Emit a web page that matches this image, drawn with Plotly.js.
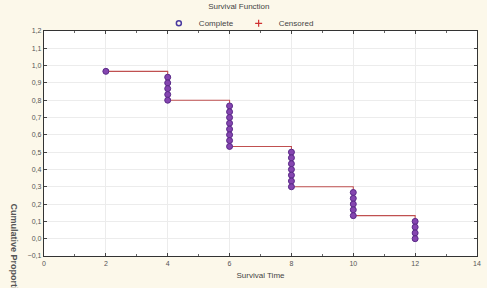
<!DOCTYPE html>
<html>
<head>
<meta charset="utf-8">
<script src="https://cdn.plot.ly/plotly-3.0.1.min.js"></script>
<style>
  html, body { margin: 0; padding: 0; background: #fcf8ea; }
  #chart { width: 487px; height: 288px; }
</style>
</head>
<body>
<div id="chart"></div>
<script>
// step function (Kaplan-Meier estimate)
var stepTimes = [2, 4, 6, 8, 10, 12];
var stepSurv = [0.967, 0.8, 0.533, 0.3, 0.133, 0.0];

// complete observations plotted as stacked points
var completeTime = [2,
    4, 4, 4, 4, 4,
    6, 6, 6, 6, 6, 6, 6, 6,
    8, 8, 8, 8, 8, 8, 8,
    10, 10, 10, 10, 10,
    12, 12, 12, 12];
var completeSurv = [0.967,
    0.933, 0.9, 0.867, 0.833, 0.8,
    0.767, 0.733, 0.7, 0.667, 0.633, 0.6, 0.567, 0.533,
    0.5, 0.467, 0.433, 0.4, 0.367, 0.333, 0.3,
    0.267, 0.233, 0.2, 0.167, 0.133,
    0.1, 0.067, 0.033, 0.0];

// no censored cases in this sample
var censoredTime = [null];
var censoredSurv = [null];

var traces = [
    {
        x: stepTimes, y: stepSurv,
        type: 'scatter', mode: 'lines',
        line: { shape: 'hv', color: '#c05050', width: 1.1 },
        showlegend: false, hoverinfo: 'skip'
    },
    {
        x: completeTime, y: completeSurv,
        type: 'scatter', mode: 'markers',
        marker: { symbol: 'circle', size: 6, color: '#8545b0', line: { color: '#5a2a88', width: 1 } },
        showlegend: false
    },
    {
        x: [null], y: [null], name: 'Complete',
        type: 'scatter', mode: 'markers',
        marker: { symbol: 'circle-open', size: 5, color: '#4a3aa0', line: { width: 1.5 } }
    },
    {
        x: censoredTime, y: censoredSurv, name: 'Censored',
        type: 'scatter', mode: 'markers',
        marker: { symbol: 'cross-thin-open', size: 5, color: '#d03030', line: { width: 1.2 } }
    }
];

var axisCommon = {
    showline: true, linecolor: '#333', linewidth: 1.2,
    mirror: 'allticks', ticks: 'inside', ticklen: 3, tickcolor: '#444',
    gridcolor: '#ececec', zeroline: false,
    tickfont: { size: 7, color: '#555' }
};

var layout = {
    width: 487, height: 288,
    margin: { l: 44, r: 10, t: 31, b: 32, autoexpand: false },
    paper_bgcolor: '#fcf8ea',
    plot_bgcolor: '#ffffff',
    font: { family: 'Liberation Sans, Arial, sans-serif', color: '#444', size: 8 },
    separators: ',.',
    xaxis: Object.assign({}, axisCommon, {
        range: [0, 14], dtick: 2, tick0: 0,
        minor: { dtick: 1, ticks: 'inside', ticklen: 2, tickcolor: '#666', showgrid: false },
        title: { text: 'Survival Time', font: { size: 8, color: '#444' }, standoff: 6 }
    }),
    yaxis: Object.assign({}, axisCommon, {
        range: [-0.1, 1.2], dtick: 0.1, tick0: 0, tickformat: '.1f'
    }),
    legend: {
        orientation: 'h', x: 0.45, xanchor: 'center', y: 1.145, yanchor: 'top',
        bgcolor: 'rgba(0,0,0,0)', font: { size: 8, color: '#444' },
        title: { text: 'Survival Function', side: 'top center', font: { size: 8, color: '#444' } },
        itemwidth: 30, tracegroupgap: 0
    },
    annotations: [{
        text: '<b>Cumulative Proportion Surviving</b>',
        xref: 'paper', yref: 'paper', x: -0.067, y: 0.24,
        xanchor: 'center', yanchor: 'top', textangle: 90,
        showarrow: false, font: { size: 9, color: '#555' }
    }]
};

Plotly.newPlot('chart', traces, layout, { displayModeBar: false, staticPlot: true });
</script>
</body>
</html>
